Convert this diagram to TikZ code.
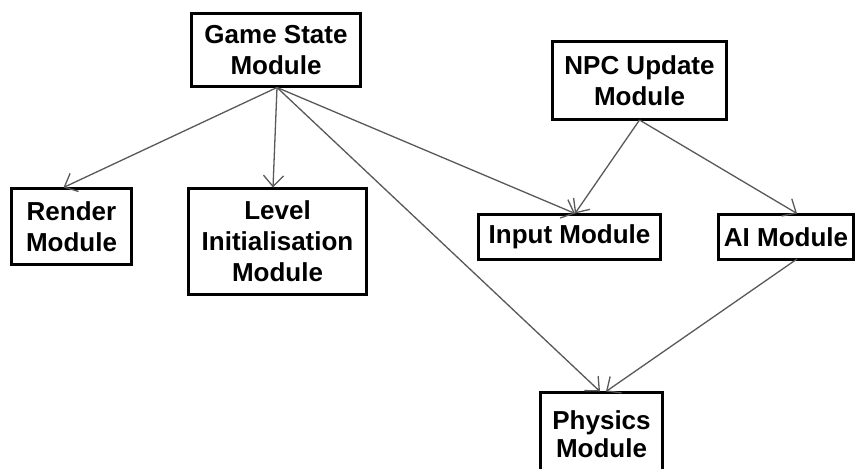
\documentclass[tikz,border=0pt]{standalone}
\usepackage{fontspec}
\setmainfont{Liberation Sans}
\usetikzlibrary{arrows.meta}
\begin{document}
\begin{tikzpicture}[x=1pt,y=-1pt,
  module/.style={draw=black,line width=3pt,fill=white,inner sep=0pt,outer sep=0pt,
    align=center,font=\fontsize{26}{31}\selectfont\bfseries},
  link/.style={draw=black!65,line width=1.3pt,
    -{Straight Barb[length=11pt,width=20pt,line width=1.3pt]}}]
  \path[use as bounding box,fill=white] (0,0) rectangle (858,468);
  \clip (0,0) rectangle (858,468);

  % module boxes (size given between the outer edges of the borders)
  \node[module,minimum width=169pt,minimum height=73pt] (gs)  at (276,50.5)   {Game State\\Module};
  \node[module,minimum width=120pt,minimum height=76pt] (ren) at (71.5,226.5) {Render\\Module};
  \node[module,minimum width=178pt,minimum height=106pt] (lvl) at (277.5,241.5) {Level\\Initialisation\\Module};
  \node[module,minimum width=174pt,minimum height=78pt] (npc) at (639.5,80.5) {NPC Update\\Module};
  \node[module,minimum width=182pt,minimum height=45pt] (inp) at (569.5,237)  {Input Module};
  \node[module,minimum width=135pt,minimum height=45pt] (ai)  at (786,237)    {AI Module};
  \node[module,minimum width=122pt,minimum height=83pt,
        font=\fontsize{26}{28}\selectfont\bfseries] (phy) at (601.5,434)  {Physics\\Module};

  % dependencies
  \coordinate (gsout) at ([xshift=1pt,yshift=-0.5pt]gs.south);
  \draw[link] (gsout) -- ([xshift=-8pt,yshift=1pt]ren.north);
  \draw[link] (gsout) -- ([xshift=-4.5pt,yshift=1pt]lvl.north);
  \draw[link] (gsout) -- ([xshift=5.5pt,yshift=1pt]inp.north);
  \draw[link] (gsout) -- ([xshift=-1.5pt,yshift=1pt]phy.north);
  \coordinate (npcout) at ([yshift=-0.5pt]npc.south);
  \draw[link] (npcout) -- ([xshift=5.5pt,yshift=1pt]inp.north);
  \draw[link] (npcout) -- ([xshift=11pt,yshift=1pt]ai.north);
  \draw[link] ([xshift=11pt,yshift=0.5pt]ai.south) -- ([xshift=4.5pt,yshift=1pt]phy.north);
\end{tikzpicture}
\end{document}
